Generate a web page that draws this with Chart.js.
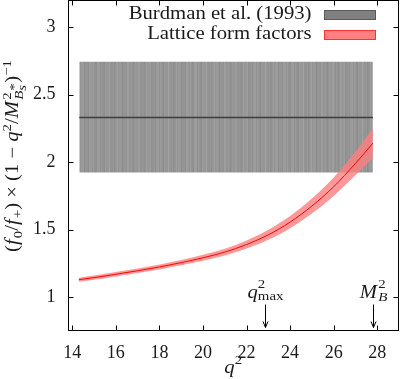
<!DOCTYPE html>
<html>
<head>
<meta charset="utf-8">
<script src="https://cdn.jsdelivr.net/npm/chart.js@4.4.1/dist/chart.umd.min.js"></script>
<style>
  html, body { margin: 0; padding: 0; background: #fff; }
  #wrap { width: 400px; height: 379px; }
</style>
</head>
<body>
<div id="wrap"><canvas id="chart" width="400" height="379"></canvas></div>
<script>
// axis ticks
const xTicks = [14, 16, 18, 20, 22, 24, 26, 28];
const yTicks = [1, 1.5, 2, 2.5, 3];

// lattice form factor ratio (central value and error band)
const q2 = [14.3, 15, 16, 17, 18, 19, 20, 21, 22, 23, 24, 25, 26, 27, 27.8];
const latticeCentral = [1.13, 1.145, 1.17, 1.196, 1.224, 1.256, 1.292, 1.334, 1.39, 1.462, 1.556, 1.675, 1.818, 1.99, 2.14];
const latticeUpper = [1.145, 1.16, 1.186, 1.213, 1.242, 1.276, 1.314, 1.359, 1.42, 1.499, 1.601, 1.73, 1.886, 2.077, 2.248];
const latticeLower = [1.115, 1.13, 1.154, 1.179, 1.206, 1.236, 1.27, 1.309, 1.36, 1.425, 1.511, 1.62, 1.75, 1.903, 2.032];

// Burdman et al. (1993) band
const burdmanQ2 = [14.32, 27.8];
const burdmanCentral = [2.33, 2.33];
const burdmanUpper = [2.743, 2.743];
const burdmanLower = [1.924, 1.924];

// arrows on the x axis
const markerQ2 = [22.85, 27.82];

const legendLabels = ["Burdman et al. (1993)", "Lattice form factors"];

const SERIF = "'Liberation Serif', 'Times New Roman', serif";
const INK = "#1a1a1a";
const WIDEN = 1.15; // Times is narrower than the TeX font of the original

function pts(xs, ys) {
  return xs.map((x, i) => ({ x: x, y: ys[i] }));
}

function stripes(ctx) {
  const c = document.createElement("canvas");
  c.width = 97;
  c.height = 4;
  const g = c.getContext("2d");
  for (let i = 0; i < c.width; i++) {
    const v = Math.round(150 + 5 * Math.sin(i * 1.7) + 4 * Math.sin(i * 0.63 + 1) + 3 * Math.cos(i * 3.1));
    g.fillStyle = `rgb(${v},${v},${v})`;
    g.fillRect(i, 0, 1, c.height);
  }
  return ctx.createPattern(c, "repeat");
}

// mixed roman / italic / sub / sup text, drawn left to right from x0
function drawMath(ctx, parts, x0, y0, size) {
  let x = x0;
  parts.forEach(p => {
    const s = p.small ? size * 0.72 : size;
    ctx.font = `${p.it ? "italic " : ""}${s}px ${SERIF}`;
    ctx.fillText(p.t, x, y0 + (p.dy || 0));
    if (!p.stay) x += ctx.measureText(p.t).width + (p.after || 0);
  });
  return x - x0;
}

function mathWidth(ctx, parts, size) {
  let w = 0;
  parts.forEach(p => {
    const s = p.small ? size * 0.72 : size;
    ctx.font = `${p.it ? "italic " : ""}${s}px ${SERIF}`;
    if (!p.stay) w += ctx.measureText(p.t).width + (p.after || 0);
  });
  return w;
}

const yTitle = [
  { t: "(" }, { t: "f", it: true, after: 1 }, { t: "0", small: true, dy: 4 },
  { t: "/" }, { t: "f", it: true, after: 1 }, { t: "+", small: true, dy: 4 },
  { t: ") × (1 − " }, { t: "q", it: true }, { t: "2", small: true, dy: -7 },
  { t: "/" }, { t: "M", it: true, after: 1 }, { t: "2", small: true, dy: -7, stay: true },
  { t: "B", small: true, it: true, dy: 5 }, { t: "*", small: true, dy: 0, stay: true },
  { t: "s", small: true, it: true, dy: 8, after: 2 },
  { t: ")" }, { t: "−1", small: true, dy: -7 }
];

const frame = {
  id: "frame",
  afterDraw(chart) {
    const { ctx, chartArea: a, scales } = chart;
    const L = Math.round(a.left) + 0.5, R = Math.round(a.right) - 0.5;
    const T = Math.round(a.top) + 0.5, B = Math.round(a.bottom) - 0.5;
    ctx.save();
    ctx.strokeStyle = "#000";
    ctx.lineWidth = 1;
    ctx.strokeRect(L, T, R - L, B - T);
    ctx.beginPath();
    xTicks.forEach(v => {
      const x = Math.round(scales.x.getPixelForValue(v)) + 0.5;
      ctx.moveTo(x, B); ctx.lineTo(x, B - 5);
      ctx.moveTo(x, T); ctx.lineTo(x, T + 5);
    });
    yTicks.forEach(v => {
      const y = Math.round(scales.y.getPixelForValue(v)) + 0.5;
      ctx.moveTo(L, y); ctx.lineTo(L + 5, y);
      ctx.moveTo(R, y); ctx.lineTo(R - 5, y);
    });
    ctx.stroke();

    // arrows with labels
    ctx.fillStyle = INK;
    ctx.textBaseline = "alphabetic";
    markerQ2.forEach((v, i) => {
      const x = Math.round(scales.x.getPixelForValue(v)) + 0.5;
      ctx.beginPath();
      ctx.moveTo(x, B - 26); ctx.lineTo(x, B - 3);
      ctx.moveTo(x - 2.5, B - 9); ctx.lineTo(x, B - 3); ctx.lineTo(x + 2.5, B - 9);
      ctx.stroke();
      const lab = i === 0
        ? [{ t: "q", it: true }, { t: "2", small: true, dy: -10, stay: true }, { t: "max", small: true, dy: 2 }]
        : [{ t: "M", it: true, after: 1 }, { t: "2", small: true, dy: -10, stay: true }, { t: "B", small: true, it: true, dy: 3 }];
      const w = mathWidth(ctx, lab, 18) * WIDEN;
      ctx.save();
      ctx.translate(x - w / 2, B - 33);
      ctx.scale(WIDEN, 1);
      drawMath(ctx, lab, 0, 0, 18);
      ctx.restore();
    });

    // x title
    const xt = [{ t: "q", it: true }, { t: "2", small: true, dy: -9 }];
    const xw = mathWidth(ctx, xt, 18) * WIDEN;
    ctx.save();
    ctx.translate((a.left + a.right) / 2 - xw / 2, 373);
    ctx.scale(WIDEN, 1);
    drawMath(ctx, xt, 0, 0, 18);
    ctx.restore();

    // y title, rotated, stretched to the original length
    const yw = mathWidth(ctx, yTitle, 18);
    ctx.translate(18, 156);
    ctx.rotate(-Math.PI / 2);
    ctx.scale(192 / yw, 1);
    drawMath(ctx, yTitle, -yw / 2, 0, 18);
    ctx.restore();

    // legend
    ctx.save();
    ctx.font = `18px ${SERIF}`;
    ctx.fillStyle = INK;
    ctx.textBaseline = "alphabetic";
    const swatches = [["#808080", "#5a5a5a"], ["#ff8080", "#ff3030"]];
    legendLabels.forEach((t, i) => {
      const w = ctx.measureText(t).width;
      ctx.save();
      ctx.translate(311.5 - w * WIDEN, 19 + i * 20);
      ctx.scale(WIDEN, 1);
      ctx.fillText(t, 0, 0);
      ctx.restore();
      ctx.fillStyle = swatches[i][0];
      ctx.strokeStyle = swatches[i][1];
      ctx.fillRect(324.5, 10.5 + i * 20, 51, 9);
      ctx.strokeRect(324.5, 10.5 + i * 20, 51, 9);
      ctx.fillStyle = INK;
    });
    ctx.restore();
  }
};

const canvas = document.getElementById("chart");
const c2d = canvas.getContext("2d");

new Chart(canvas, {
  type: "scatter",
  data: {
    datasets: [
      { data: pts(q2, latticeCentral), showLine: true, borderColor: "#ff0000", borderWidth: 1,
        pointRadius: 0, fill: false, order: 0, cubicInterpolationMode: "monotone" },
      { data: pts(q2, latticeUpper), showLine: true, borderWidth: 0, borderColor: "rgba(0,0,0,0)",
        backgroundColor: "rgba(255,128,128,0.8)", pointRadius: 0, fill: "+1", order: 1,
        cubicInterpolationMode: "monotone" },
      { data: pts(q2, latticeLower), showLine: true, borderWidth: 0, borderColor: "rgba(0,0,0,0)",
        pointRadius: 0, fill: false, order: 1, cubicInterpolationMode: "monotone" },
      { data: pts(burdmanQ2, burdmanCentral), showLine: true, borderColor: "#3c3c3c", borderWidth: 1.5,
        pointRadius: 0, fill: false, order: 2 },
      { data: pts(burdmanQ2, burdmanUpper), showLine: true, borderWidth: 0, borderColor: "rgba(0,0,0,0)",
        backgroundColor: stripes(c2d), pointRadius: 0, fill: "+1", order: 3 },
      { data: pts(burdmanQ2, burdmanLower), showLine: true, borderWidth: 0, borderColor: "rgba(0,0,0,0)",
        pointRadius: 0, fill: false, order: 3 }
    ]
  },
  options: {
    responsive: false,
    animation: false,
    layout: { padding: { top: 0, right: 1, left: 0, bottom: 0 } },
    plugins: { legend: { display: false }, tooltip: { enabled: false } },
    scales: {
      x: {
        type: "linear", min: 13.78, max: 29.0,
        grid: { display: false, drawTicks: false }, border: { display: false },
        afterBuildTicks: s => { s.ticks = xTicks.map(v => ({ value: v })); },
        afterFit: s => { s.height = 48; s.paddingLeft = 0; s.paddingRight = 0; },
        ticks: { padding: 11, color: INK, font: { family: SERIF, size: 18 }, maxRotation: 0,
          callback: v => String(v) }
      },
      y: {
        type: "linear", min: 0.75, max: 3.2,
        grid: { display: false, drawTicks: false }, border: { display: false },
        afterBuildTicks: s => { s.ticks = yTicks.map(v => ({ value: v })); },
        afterFit: s => { s.width = 67.5; s.paddingTop = 0; s.paddingBottom = 0; },
        ticks: { padding: 12, color: INK, font: { family: SERIF, size: 18 },
          callback: v => String(v) }
      }
    }
  },
  plugins: [frame]
});
</script>
</body>
</html>
